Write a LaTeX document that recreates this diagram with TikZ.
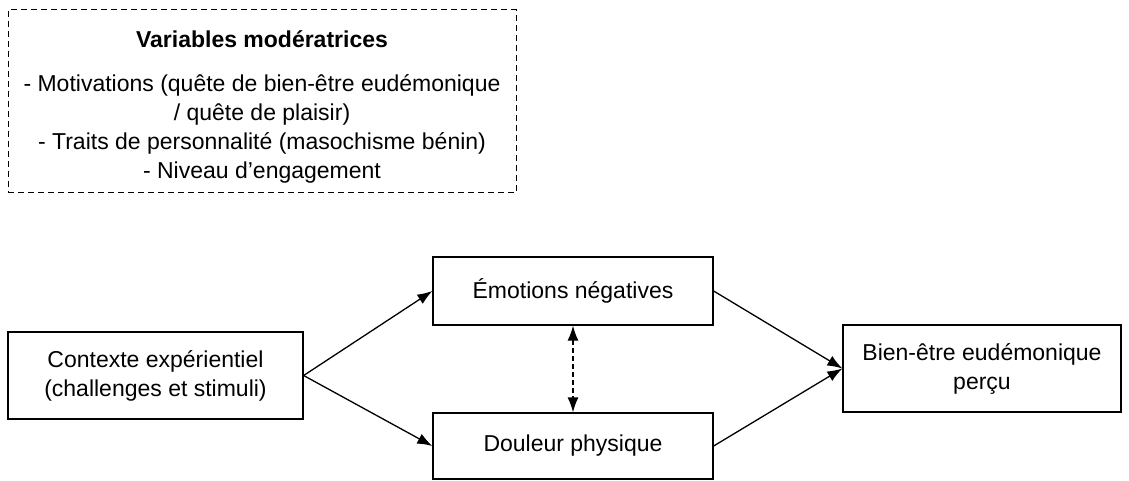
\documentclass[tikz,border=0pt]{standalone}
\usepackage{fontspec}
\setmainfont{Liberation Sans}
\usetikzlibrary{arrows.meta}
\usetikzlibrary{calc,positioning}

\begin{document}
\begin{tikzpicture}[x=1pt,y=1pt]
	\tikzset{box/.style={
		rectangle, draw=black, line width=1.3pt, align=center, inner sep=0pt,
		font=\fontsize{23}{29}\selectfont
	}}
	\tikzset{modbox/.style={
		box, line width=1pt, dash pattern=on 6pt off 4pt, minimum width=508, minimum height=183
	}}
	\tikzset{conn/.style={
		line width=1.3pt, -{Latex[length=15pt, width=11pt]}
	}}
	\tikzset{link/.style={
		line width=1.3pt, dash pattern=on 5pt off 3pt, {Latex[length=15pt, width=11pt]}-{Latex[length=15pt, width=11pt]}
	}}

	\useasboundingbox (0,0) rectangle (1129,480);

	% Moderateurs
	\node (Moderateurs) [modbox] at (262,378.5) {}
		% Text
		node (ModText) [font=\fontsize{23}{29}\selectfont, align=center] at ([yshift=-5]Moderateurs.center) {\textbf{Variables modératrices}\\[15pt]
			- Motivations (quête de bien-être eudémonique\\
			/ quête de plaisir)\\
			- Traits de personnalité (masochisme bénin)\\
			- Niveau d’engagement}
	;

	% Contexte
	\node (Contexte) [box, minimum width=295, minimum height=87] at (155.5,104.5) {Contexte expérientiel\\(challenges et stimuli)};

	% Emotions / Douleur
	\node (Emotions) [box, minimum width=280, minimum height=68] at (573,189) {Émotions négatives};
	\node (Douleur) [box, minimum width=280, minimum height=66] at (573,34) {Douleur physique};

	% Bien-etre
	\node (Bienetre) [box, minimum width=278, minimum height=87] at (982,111.5) {Bien-être eudémonique\\perçu};

	% Contexte -> Emotions / Douleur
	\draw[conn] (Contexte.east) -- (Emotions.west);
	\draw[conn] (Contexte.east) -- (Douleur.west);

	% Emotions / Douleur -> Bien-etre
	\draw[conn] (Emotions.east) -- (Bienetre.west);
	\draw[conn] (Douleur.east) -- (Bienetre.west);

	% Emotions <-> Douleur
	\draw[link] (Emotions.south) -- (Douleur.north);
\end{tikzpicture}
\end{document}
